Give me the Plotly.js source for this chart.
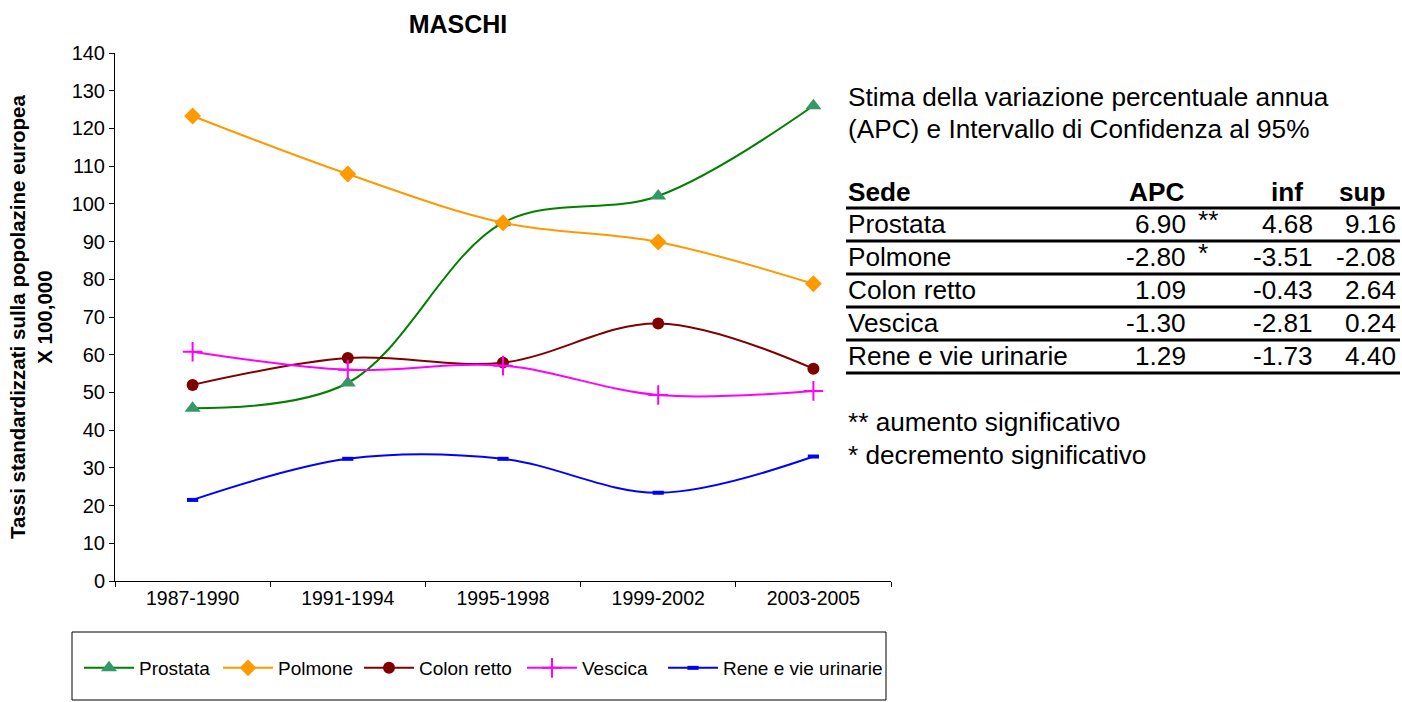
<!DOCTYPE html>
<html>
<head>
<meta charset="utf-8">
<script src="https://cdn.plot.ly/plotly-3.0.1.min.js"></script>
<style>html,body{margin:0;padding:0;background:#fff;}#chart{width:1402px;height:702px;}</style>
</head>
<body>
<div id="chart"></div>
<script>
// ---- data ----
const periods = ["1987-1990", "1991-1994", "1995-1998", "1999-2002", "2003-2005"];
const prostata = [45.8, 52.5, 95.0, 102.1, 126.0];
const polmone = [123.3, 107.9, 95.0, 89.9, 78.8];
const colonRetto = [52.0, 59.1, 57.9, 68.3, 56.3];
const vescica = [60.8, 56.0, 57.1, 49.3, 50.4];
const rene = [21.5, 32.4, 32.4, 23.4, 33.0];

const sedi = ["Prostata", "Polmone", "Colon retto", "Vescica", "Rene e vie urinarie"];
const apc = ["6.90", "-2.80", "1.09", "-1.30", "1.29"];
const apcSig = ["**", "*", "", "", ""];
const infCI = ["4.68", "-3.51", "-0.43", "-2.81", "-1.73"];
const supCI = ["9.16", "-2.08", "2.64", "0.24", "4.40"];

// ---- layout helpers (pixel -> paper) ----
const L = 115, R = 891, T = 53, B = 581;
const W = R - L, H = B - T;
const px = v => (v - L) / W;
const py = v => (B - v) / H;
const FONT = "Liberation Sans, Arial, sans-serif";

function tr(name, y, color, mcolor, symbol, size, legendId, extra) {
  return {
    x: periods, y: y, name: name, type: "scatter", mode: "lines+markers", legend: legendId,
    line: {color: color, width: 2, shape: "spline", smoothing: 1},
    marker: Object.assign({color: mcolor, symbol: symbol, size: size}, extra || {})
  };
}

const traces = [
  tr("Prostata", prostata, "#008000", "#339966", "triangle-up", 14, "legend"),
  tr("Polmone", polmone, "#FF9900", "#FF9900", "diamond", 13, "legend2"),
  tr("Colon retto", colonRetto, "#800000", "#800000", "circle", 12, "legend3"),
  tr("Vescica", vescica, "#FF00FF", "#FF00FF", "cross-thin", 14, "legend4", {line: {color: "#FF00FF", width: 2}}),
  tr("Rene e vie urinarie", rene, "#0000FF", "#0000FF", "line-ew", 8, "legend5", {line: {color: "#0000FF", width: 4}})
];

const annotations = [];
const shapes = [];
const TS = 26.2;
const tfont = {family: FONT, size: TS, color: "#000"};
const tbold = {family: FONT, size: TS, color: "#000", weight: "bold"};
function txt(x, y, text, font, anchor) {
  annotations.push({xref: "paper", yref: "paper", x: px(x), y: py(y), text: text,
    showarrow: false, font: font, xanchor: anchor || "left", yanchor: "middle"});
}
txt(846, 97, "Stima della variazione percentuale annua", tfont);
txt(846, 129, "(APC) e Intervallo di Confidenza al 95%", tfont);
txt(846, 192, "Sede", tbold);
txt(1186, 192, "APC", tbold, "right");
txt(1305, 192, "inf", tbold, "right");
txt(1388, 192, "sup", tbold, "right");
const rowY0 = 224, rowH = 33;
sedi.forEach((s, i) => {
  const y = rowY0 + i * rowH;
  txt(846, y, s, tfont);
  txt(1188, y, apc[i], tfont, "right");
  if (apcSig[i]) txt(1196, y - 4, apcSig[i], tfont, "left");
  txt(1315, y, infCI[i], tfont, "right");
  txt(1398, y, supCI[i], tfont, "right");
});
for (let i = 0; i <= sedi.length; i++) {
  const y = 208 + i * rowH;
  shapes.push({type: "line", xref: "paper", yref: "paper", x0: px(846), x1: px(1400), y0: py(y), y1: py(y),
    line: {color: "#000", width: 3}});
}
txt(846, 422, "** aumento significativo", tfont);
txt(846, 455, "* decremento significativo", tfont);

// y-axis title (two lines, rotated)
annotations.push({xref: "paper", yref: "paper", x: px(31), y: py(317), textangle: -90,
  text: "<b>Tassi standardizzati sulla popolazine europea<br>X 100,000</b>", showarrow: false,
  xanchor: "center", yanchor: "middle", font: {family: FONT, size: 20.5, color: "#000"}});

// legend box
shapes.push({type: "rect", xref: "paper", yref: "paper", x0: px(72), x1: px(886), y0: py(632), y1: py(700),
  line: {color: "#000", width: 1}, fillcolor: "rgba(0,0,0,0)"});

function leg(xpix) {
  return {orientation: "h", x: px(xpix), y: py(668), xanchor: "left", yanchor: "middle",
    font: {family: FONT, size: 19, color: "#000"}, bgcolor: "rgba(0,0,0,0)", borderwidth: 0,
    itemwidth: 50};
}

const layout = {
  width: 1402, height: 702,
  margin: {l: L, r: 1402 - R, t: T, b: 702 - B, pad: 0},
  paper_bgcolor: "#fff", plot_bgcolor: "#fff",
  font: {family: FONT, color: "#000"},
  title: {text: "<b>MASCHI</b>", xref: "container", yref: "container", x: 458 / 1402, y: 1 - 24 / 702,
    xanchor: "center", yanchor: "middle", font: {family: FONT, size: 25, color: "#000"}},
  xaxis: {type: "category", range: [-0.5, 4.5], tickson: "boundaries", ticks: "outside", ticklen: 5,
    tickcolor: "#000", showline: true, linecolor: "#000", linewidth: 1, showgrid: false, zeroline: false,
    tickfont: {family: FONT, size: 19.5, color: "#000"}, fixedrange: true},
  yaxis: {range: [0, 140], dtick: 10, ticks: "outside", ticklen: 5, tickcolor: "#000", showline: true,
    linecolor: "#000", linewidth: 1, showgrid: false, zeroline: false,
    tickfont: {family: FONT, size: 20, color: "#000"}},
  showlegend: true,
  legend: leg(79), legend2: leg(218), legend3: leg(359), legend4: leg(522), legend5: leg(663),
  annotations: annotations,
  shapes: shapes
};

Plotly.newPlot("chart", traces, layout, {displayModeBar: false, staticPlot: true});
</script>
</body>
</html>
